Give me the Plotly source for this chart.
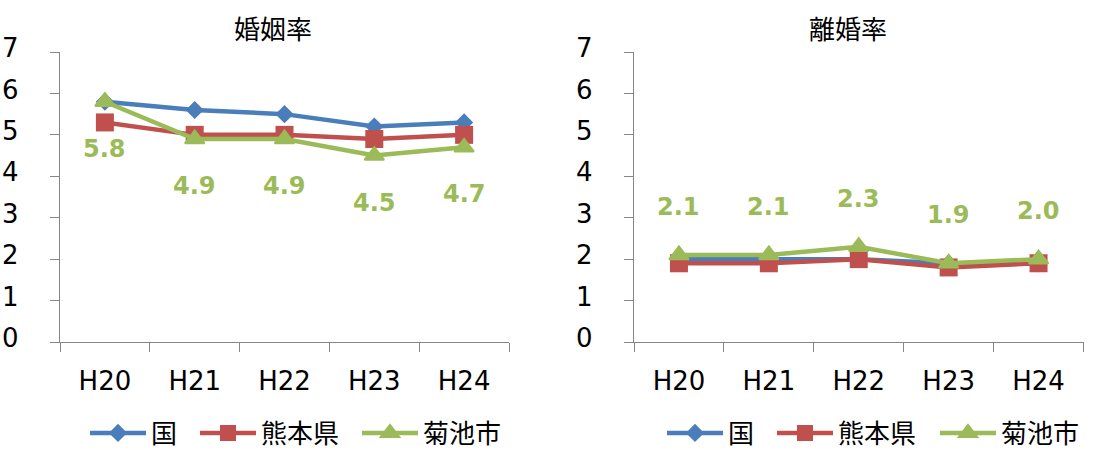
import plotly.graph_objects as go

# 年度
years = ["H20", "H21", "H22", "H23", "H24"]
series_names = ["国", "熊本県", "菊池市"]

# 婚姻率（人口千対）
marriage_kuni = [5.8, 5.6, 5.5, 5.2, 5.3]
marriage_kumamoto = [5.3, 5.0, 5.0, 4.9, 5.0]
marriage_kikuchi = [5.8, 4.9, 4.9, 4.5, 4.7]

# 離婚率（人口千対）
divorce_kuni = [2.0, 2.0, 2.0, 1.9, 1.9]
divorce_kumamoto = [1.9, 1.9, 2.0, 1.8, 1.9]
divorce_kikuchi = [2.1, 2.1, 2.3, 1.9, 2.0]

chart_titles = ["婚姻率", "離婚率"]

W, H = 1116, 450
colors = ["#4A7EBB", "#C0504D", "#9BBB59"]
symbols = ["diamond", "square", "triangle-up"]
msizes = [14, 18, 17]
mlines = [0, 0, 2]
num_font = "DejaVu Sans, Noto Sans CJK JP"
jp_font = "Noto Sans CJK JP, DejaVu Sans"

# 凡例の左端位置（px）：各グラフの下に系列ごとに並べる
legend_left = [[85, 195, 357], [662, 772, 935]]

fig = go.Figure()

panels = [
    ("x", "y", [marriage_kuni, marriage_kumamoto, marriage_kikuchi]),
    ("x2", "y2", [divorce_kuni, divorce_kumamoto, divorce_kikuchi]),
]

legend_layout = {}
legend_idx = 0
for p, (xa, ya, data) in enumerate(panels):
    for k, (name, vals, c, s, ms, ml) in enumerate(
            zip(series_names, data, colors, symbols, msizes, mlines)):
        legend_idx += 1
        lg = "legend" if legend_idx == 1 else f"legend{legend_idx}"
        legend_layout[lg] = dict(
            orientation="h", yref="paper", yanchor="middle", y=(H - 433) / H,
            xref="paper", xanchor="left", x=legend_left[p][k] / W,
            bgcolor="rgba(0,0,0,0)", borderwidth=0, itemwidth=56,
            font=dict(family=jp_font, size=26, color="#000000"),
            itemclick=False, itemdoubleclick=False,
        )
        fig.add_trace(go.Scatter(
            x=years, y=vals, name=name, mode="lines+markers",
            xaxis=xa, yaxis=ya, legend=lg,
            line=dict(color=c, width=4.5),
            marker=dict(symbol=s, size=ms, color=c, line=dict(width=ml, color=c)),
            hoverinfo="skip",
        ))

# 菊池市の値ラベル
for v, yr in zip(marriage_kikuchi, years):
    fig.add_annotation(x=yr, y=v, xref="x", yref="y", text=f"{v:.1f}",
                       showarrow=False, yshift=-47,
                       font=dict(family=num_font, size=24, color="#9BBB59", weight="bold"))
for v, yr in zip(divorce_kikuchi, years):
    fig.add_annotation(x=yr, y=v, xref="x2", yref="y2", text=f"{v:.1f}",
                       showarrow=False, yshift=48,
                       font=dict(family=num_font, size=24, color="#9BBB59", weight="bold"))

# グラフタイトル
for t, xc in zip(chart_titles, [273 / W, 848 / W]):
    fig.add_annotation(x=xc, y=(H - 27) / H, xref="paper", yref="paper", text=t,
                       showarrow=False, xanchor="center", yanchor="middle",
                       font=dict(family=jp_font, size=26, color="#000000"))

axis_color = "#868686"
yaxis_common = dict(
    range=[0, 7], tickvals=list(range(0, 8)), ticks="outside", ticklen=9,
    tickcolor=axis_color, showline=True, linecolor=axis_color, linewidth=1.3,
    showgrid=False, zeroline=False, ticklabelstandoff=26, ticklabelshift=-4,
    automargin=False,
    tickfont=dict(family=num_font, size=26, color="#000000"),
    domain=[(H - 342) / H, (H - 52) / H], fixedrange=True,
)
xaxis_common = dict(
    type="category", categoryorder="array", categoryarray=years,
    range=[-0.5, 4.5], tickson="boundaries", ticks="outside", ticklen=9,
    tickcolor=axis_color, showline=True, linecolor=axis_color, linewidth=1.3,
    showgrid=False, zeroline=False, ticklabelstandoff=16, automargin=False,
    tickfont=dict(family=num_font, size=26, color="#000000"), fixedrange=True,
)

fig.update_layout(
    width=W, height=H,
    margin=dict(l=0, r=0, t=0, b=0, autoexpand=False),
    paper_bgcolor="#FFFFFF", plot_bgcolor="#FFFFFF",
    xaxis=dict(xaxis_common, domain=[60 / W, 509 / W], anchor="y"),
    yaxis=dict(yaxis_common, anchor="x"),
    xaxis2=dict(xaxis_common, domain=[634 / W, 1083.5 / W], anchor="y2"),
    yaxis2=dict(yaxis_common, anchor="x2"),
    showlegend=True,
    **legend_layout,
)

fig.write_html("out.html", config={"displayModeBar": False})
